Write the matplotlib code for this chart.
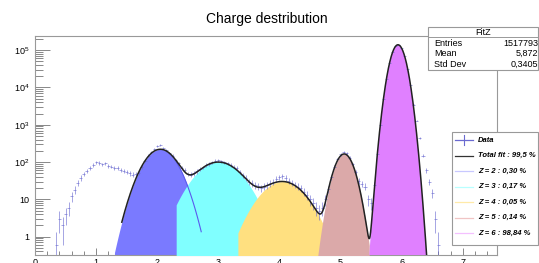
import numpy as np
import matplotlib.pyplot as plt
from matplotlib.patches import Rectangle
from matplotlib.lines import Line2D
from matplotlib.ticker import FixedLocator, LogLocator, NullFormatter, MultipleLocator

plt.rcParams['font.family'] = ['Liberation Sans', 'DejaVu Sans']
plt.rcParams['mathtext.fontset'] = 'custom'
plt.rcParams['mathtext.rm'] = 'Liberation Sans'

# histogram "Data", bins of 0.05 starting at 0.35
bin_start = 0.35
bin_width = 0.05
counts = [0.6, 3, 2, 4, 6, 12, 18, 28, 38, 48,
          58, 70, 85, 100, 95, 88, 92, 80, 76, 70,
          68, 62, 58, 55, 50, 46, 48, 52, 75, 110,
          150, 185, 230, 270, 280, 240, 205, 175, 150, 112,
          92, 70, 60, 48, 46, 50, 56, 64, 72, 84,
          90, 100, 108, 112, 104, 98, 92, 84, 76, 68,
          55, 45, 38, 30, 27, 24, 23, 20, 22, 24,
          27, 30, 36, 40, 42, 38, 32, 28, 25, 22,
          20, 16, 13, 10, 8, 6, 5, 6, 10, 19,
          40, 75, 118, 160, 190, 170, 130, 88, 55, 32,
          26, 22, 10, 8, 25, 160, 1000, 4800, 17000, 45000,
          88000, 128000, 140000, 114000, 70000, 32000, 11500, 3500, 1300, 450,
          150, 60, 30, 15, 3, 0.6]

# fitted components (amplitude, mean, sigma) and drawn ranges
comp_names = ['Z = 2 : 0,30 %', 'Z = 3 : 0,17 %', 'Z = 4 : 0,05 %',
              'Z = 5 : 0,14 %', 'Z = 6 : 98,84 %']
comp_amp = [220, 100, 30, 165, 1.4e5]
comp_mean = [2.05, 3.00, 4.05, 5.06, 5.94]
comp_sigma = [0.21, 0.30, 0.29, 0.122, 0.092]
comp_lo = [1.30, 2.31, 3.32, 4.60, 5.46]
comp_hi = [2.72, 3.90, 4.75, 5.47, 6.45]
fill_colors = ['#7a7aff', '#80ffff', '#ffe080', '#dba9a9', '#e080ff']
legend_colors = ['#c8c8ff', '#b8ffff', '#ffeaa8', '#f0c4c4', '#f4c0ff']

total_lo, total_hi = 1.42, 6.43


def gauss(x, a, m, s):
    return a * np.exp(-(x - m)**2 / (2 * s**2))


fig = plt.figure(figsize=(5.39, 2.63), dpi=100)
ax = fig.add_axes([0.065, 0.03, 0.857, 0.833])
ax.set_yscale('log')
ax.set_xlim(0, 7.56)
ax.set_ylim(0.32, 2.4e5)

for i in range(5):
    xs = np.linspace(comp_lo[i], comp_hi[i], 300)
    ys = gauss(xs, comp_amp[i], comp_mean[i], comp_sigma[i])
    ax.fill_between(xs, 1e-3, ys, color=fill_colors[i], lw=0, zorder=2 + i)
# thin blue line of the Z=2 component
xs = np.linspace(2.31, 2.72, 100)
ax.plot(xs, gauss(xs, comp_amp[0], comp_mean[0], comp_sigma[0]),
        color='#5a5aee', lw=0.8, zorder=8)

# data points with error bars
c = np.array(counts, dtype=float)
xc = bin_start + bin_width * np.arange(len(c))
err = np.sqrt(c)
lo = np.minimum(err, c * 0.7)
ax.errorbar(xc, c, xerr=bin_width / 2, yerr=[lo, err], fmt='none',
            ecolor='#6a6ad0', elinewidth=0.6, alpha=0.7, zorder=9)

# total fit
xt = np.linspace(total_lo, total_hi, 1000)
yt = sum(gauss(xt, comp_amp[i], comp_mean[i], comp_sigma[i]) for i in range(5))
ax.plot(xt, yt, color='#222222', lw=1.1, zorder=10)

# axes styling (ROOT-like)
for sp in ax.spines.values():
    sp.set_color('#999999')
    sp.set_linewidth(0.8)
ax.xaxis.set_major_locator(MultipleLocator(1))
ax.xaxis.set_minor_locator(MultipleLocator(0.2))
ax.yaxis.set_major_locator(FixedLocator([1, 10, 1e2, 1e3, 1e4, 1e5]))
ax.set_yticklabels(['1', '10', r'$10^{2}$', r'$10^{3}$', r'$10^{4}$', r'$10^{5}$'])
ax.yaxis.set_minor_locator(LogLocator(base=10, subs=np.arange(2, 10)))
ax.yaxis.set_minor_formatter(NullFormatter())
ax.tick_params(axis='both', which='both', direction='in', colors='#888888',
               labelcolor='black', labelsize=6.5, width=0.7)
ax.tick_params(axis='y', which='major', length=11, pad=4)
ax.tick_params(axis='y', which='minor', length=6)
ax.tick_params(axis='x', which='major', length=5, pad=2)
ax.tick_params(axis='x', which='minor', length=3)

fig.text(0.495, 0.928, 'Charge destribution', ha='center', va='center', fontsize=10)

# stat box
sb = Rectangle((0.794, 0.734), 0.205, 0.163, transform=fig.transFigure,
               facecolor='white', edgecolor='#999999', lw=0.8, zorder=20)
fig.patches.append(sb)
fig.lines.append(Line2D([0.794, 0.999], [0.859, 0.859], transform=fig.transFigure,
                        color='#999999', lw=0.7, zorder=21))
fig.text(0.897, 0.878, 'FitZ', ha='center', va='center', fontsize=6.5, zorder=22)
stat_names = ['Entries', 'Mean', 'Std Dev']
stat_vals = ['1517793', '5,872', '0,3405']
for k in range(3):
    yy = 0.836 - k * 0.04
    fig.text(0.805, yy, stat_names[k], ha='left', va='center', fontsize=6.5, zorder=22)
    fig.text(0.998, yy, stat_vals[k], ha='right', va='center', fontsize=6.5, zorder=22)

# legend box
lb = Rectangle((0.839, 0.068), 0.159, 0.43, transform=fig.transFigure,
               facecolor='white', edgecolor='#999999', lw=0.8, zorder=20)
fig.patches.append(lb)
leg_names = ['Data', 'Total fit : 99,5 %'] + comp_names
leg_colors = ['#6a6ad0', '#333333'] + legend_colors
for k in range(7):
    yy = 1 - (140 + k * 15.5) / 263
    fig.lines.append(Line2D([0.845, 0.877], [yy, yy], transform=fig.transFigure,
                            color=leg_colors[k], lw=0.9, zorder=21))
    if k == 0:
        fig.lines.append(Line2D([0.861, 0.861], [yy - 0.018, yy + 0.018],
                                transform=fig.transFigure, color=leg_colors[k],
                                lw=0.8, zorder=21))
    fig.text(0.887, yy, leg_names[k], ha='left', va='center', fontsize=5.5,
             fontweight='bold', fontstyle='italic', zorder=22)

fig.savefig('out.png', dpi=100)
